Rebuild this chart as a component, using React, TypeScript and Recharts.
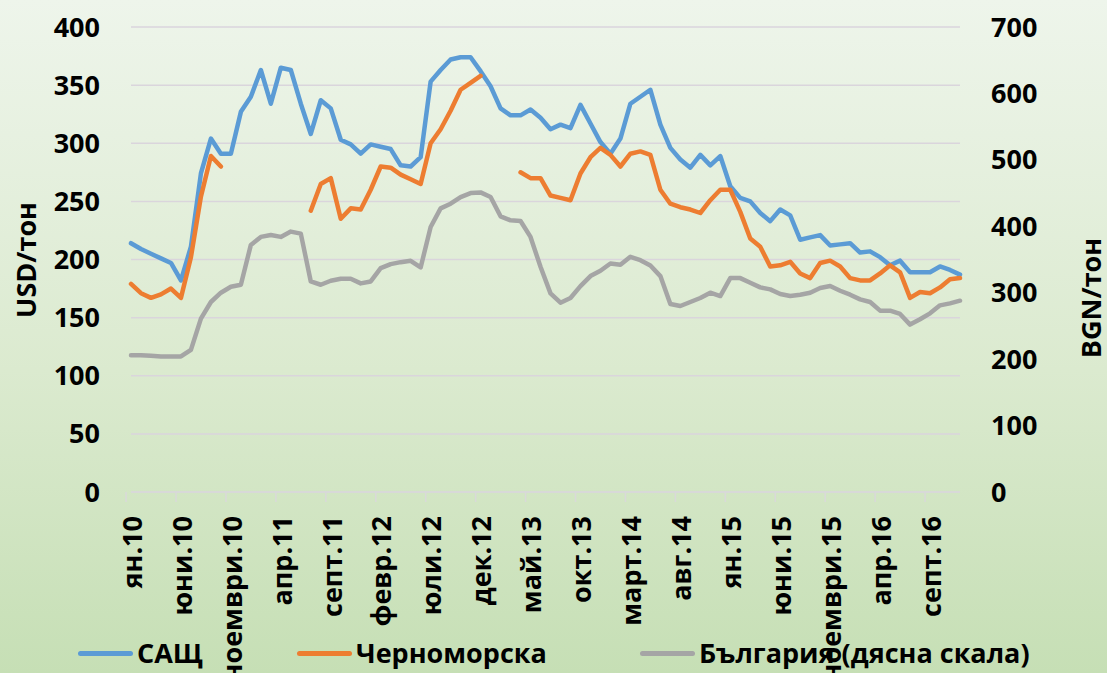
import React from 'react'
import { CartesianGrid, ComposedChart, Line, XAxis, YAxis } from 'recharts'

const monthNames = ['ян', 'февр', 'март', 'апр', 'май', 'юни', 'юли', 'авг', 'септ', 'окт', 'ноември', 'дек']
const years = ['10', '11', '12', '13', '14', '15', '16']
const months = years.flatMap((y) => monthNames.map((m) => `${m}.${y}`))

// USD/тон
const usa = [
  214, 209, 205, 201, 197, 182, 211, 274, 304, 291, 291, 327,
  340, 363, 334, 365, 363, 334, 308, 337, 330, 303, 299, 291,
  299, 297, 295, 281, 280, 288, 353, 363, 372, 374, 374, 362,
  349, 330, 324, 324, 329, 322, 312, 316, 313, 333, 317, 301,
  291, 304, 334, 340, 346, 316, 296, 286, 279, 290, 281, 289,
  263, 253, 250, 240, 233, 243, 238, 217, 219, 221, 212, 213,
  214, 206, 207, 202, 195, 199, 189, 189, 189, 194, 191, 187,
]

// USD/тон, with gaps
const blackSea = [
  179, 171, 167, 170, 175, 167, 202, 254, 289, 280, null, null,
  null, null, null, null, null, null, 242, 265, 270, 235, 244, 243,
  260, 280, 279, 273, 269, 265, 300, 312, 328, 346, 352, 358,
  null, null, null, 275, 270, 270, 255, 253, 251, 274, 288, 296,
  290, 280, 291, 293, 290, 260, 248, 245, 243, 240, 251, 260,
  260, 241, 218, 211, 194, 195, 198, 188, 184, 197, 199, 194,
  184, 182, 182, 188, 195, 189, 167, 172, 171, 176, 183, 184,
]

// BGN/тон (right scale)
const bulgaria = [
  206, 206, 205, 204, 204, 204, 214, 261, 286, 300, 309, 312,
  372, 384, 387, 384, 392, 389, 317, 312, 318, 321, 321, 314,
  317, 337, 343, 346, 348, 338, 399, 427, 434, 444, 450, 451,
  444, 415, 409, 408, 384, 339, 299, 285, 292, 310, 325, 333,
  344, 342, 354, 349, 341, 325, 283, 280, 286, 292, 300, 295,
  322, 322, 315, 308, 305, 298, 295, 297, 300, 307, 310, 303,
  297, 290, 286, 273, 273, 268, 252, 260, 269, 281, 284, 288,
]

const leftTicks = [0, 50, 100, 150, 200, 250, 300, 350, 400]
const rightTicks = [0, 100, 200, 300, 400, 500, 600, 700]

const data = months.map((month, i) => ({
  month,
  usa: usa[i],
  blackSea: blackSea[i],
  bulgaria: bulgaria[i],
}))

const FONT = '"Open Sans", "Noto Sans", sans-serif'
const tickStyle = { fill: '#000', fontSize: 27, fontWeight: 700, fontFamily: FONT }

function MonthTick(props: any) {
  const { x, y, payload } = props
  const half = payload && payload.offset ? payload.offset : 829 / 84 / 2
  const bx = x - half
  const ty = y + 24
  return (
    <g>
      <line x1={bx} x2={bx} y1={y} y2={y + 10} stroke="#d9d9d9" strokeWidth={1.5} />
      <text
        x={x}
        y={ty}
        dy="0.4em"
        textAnchor="end"
        transform={`rotate(-90 ${x} ${ty})`}
        fill="#000"
        fontSize={27}
        fontWeight={700}
        fontFamily={FONT}
      >
        {payload.value}
      </text>
    </g>
  )
}

const legendItems = [
  { label: 'САЩ', color: '#5b9bd5', x: 78 },
  { label: 'Черноморска', color: '#ed7d31', x: 297 },
  { label: 'България (дясна скала)', color: '#a5a5a5', x: 640 },
]

export default function App() {
  return (
    <div
      style={{
        position: 'absolute',
        left: 0,
        top: 0,
        width: 1107,
        height: 673,
        overflow: 'hidden',
        background: 'linear-gradient(to bottom, #eef5eb 0%, #dbeacf 55%, #c6dfb5 100%)',
        fontFamily: FONT,
      }}
    >
      <ComposedChart width={1107} height={673} data={data} margin={{ top: 27, right: 0, bottom: 0, left: 0 }}>
        <CartesianGrid vertical={false} yAxisId="left" stroke="#dad5dc" strokeWidth={1.5} />
        <XAxis
          dataKey="month"
          interval={4}
          height={181}
          tickLine={false}
          tickSize={0}
          tickMargin={0}
          axisLine={{ stroke: '#d9d9d9', strokeWidth: 1.5 }}
          tick={<MonthTick />}
        />
        <YAxis
          yAxisId="left"
          domain={[0, 400]}
          ticks={leftTicks}
          width={131}
          axisLine={false}
          tickLine={false}
          tickSize={0}
          tickMargin={31}
          tick={tickStyle}
        />
        <YAxis
          yAxisId="right"
          orientation="right"
          domain={[0, 700]}
          ticks={rightTicks}
          width={147}
          axisLine={false}
          tickLine={false}
          tickSize={0}
          tickMargin={31}
          tick={tickStyle}
        />
        <Line
          yAxisId="left"
          type="linear"
          dataKey="usa"
          stroke="#5b9bd5"
          strokeWidth={4.5}
          strokeLinejoin="round"
          strokeLinecap="round"
          dot={false}
          isAnimationActive={false}
        />
        <Line
          yAxisId="left"
          type="linear"
          dataKey="blackSea"
          stroke="#ed7d31"
          strokeWidth={4.5}
          strokeLinejoin="round"
          strokeLinecap="round"
          dot={false}
          isAnimationActive={false}
        />
        <Line
          yAxisId="right"
          type="linear"
          dataKey="bulgaria"
          stroke="#a5a5a5"
          strokeWidth={4.5}
          strokeLinejoin="round"
          strokeLinecap="round"
          dot={false}
          isAnimationActive={false}
        />
      </ComposedChart>

      <div
        style={{
          position: 'absolute',
          left: 25,
          top: 260,
          transform: 'translate(-50%, -50%) rotate(-90deg)',
          whiteSpace: 'nowrap',
          fontSize: 27,
          fontWeight: 700,
          lineHeight: 1,
          color: '#000',
        }}
      >
        USD/тон
      </div>
      <div
        style={{
          position: 'absolute',
          left: 1090,
          top: 298,
          transform: 'translate(-50%, -50%) rotate(-90deg)',
          whiteSpace: 'nowrap',
          fontSize: 27,
          fontWeight: 700,
          lineHeight: 1,
          color: '#000',
        }}
      >
        BGN/тон
      </div>

      {legendItems.map((item) => (
        <React.Fragment key={item.label}>
          <div
            style={{
              position: 'absolute',
              left: item.x,
              top: 650.5,
              width: 55,
              height: 5,
              borderRadius: 3,
              background: item.color,
            }}
          />
          <div
            style={{
              position: 'absolute',
              left: item.x + 59,
              top: 639,
              fontSize: 27,
              fontWeight: 700,
              lineHeight: 1,
              whiteSpace: 'nowrap',
              color: '#000',
            }}
          >
            {item.label}
          </div>
        </React.Fragment>
      ))}
    </div>
  )
}
